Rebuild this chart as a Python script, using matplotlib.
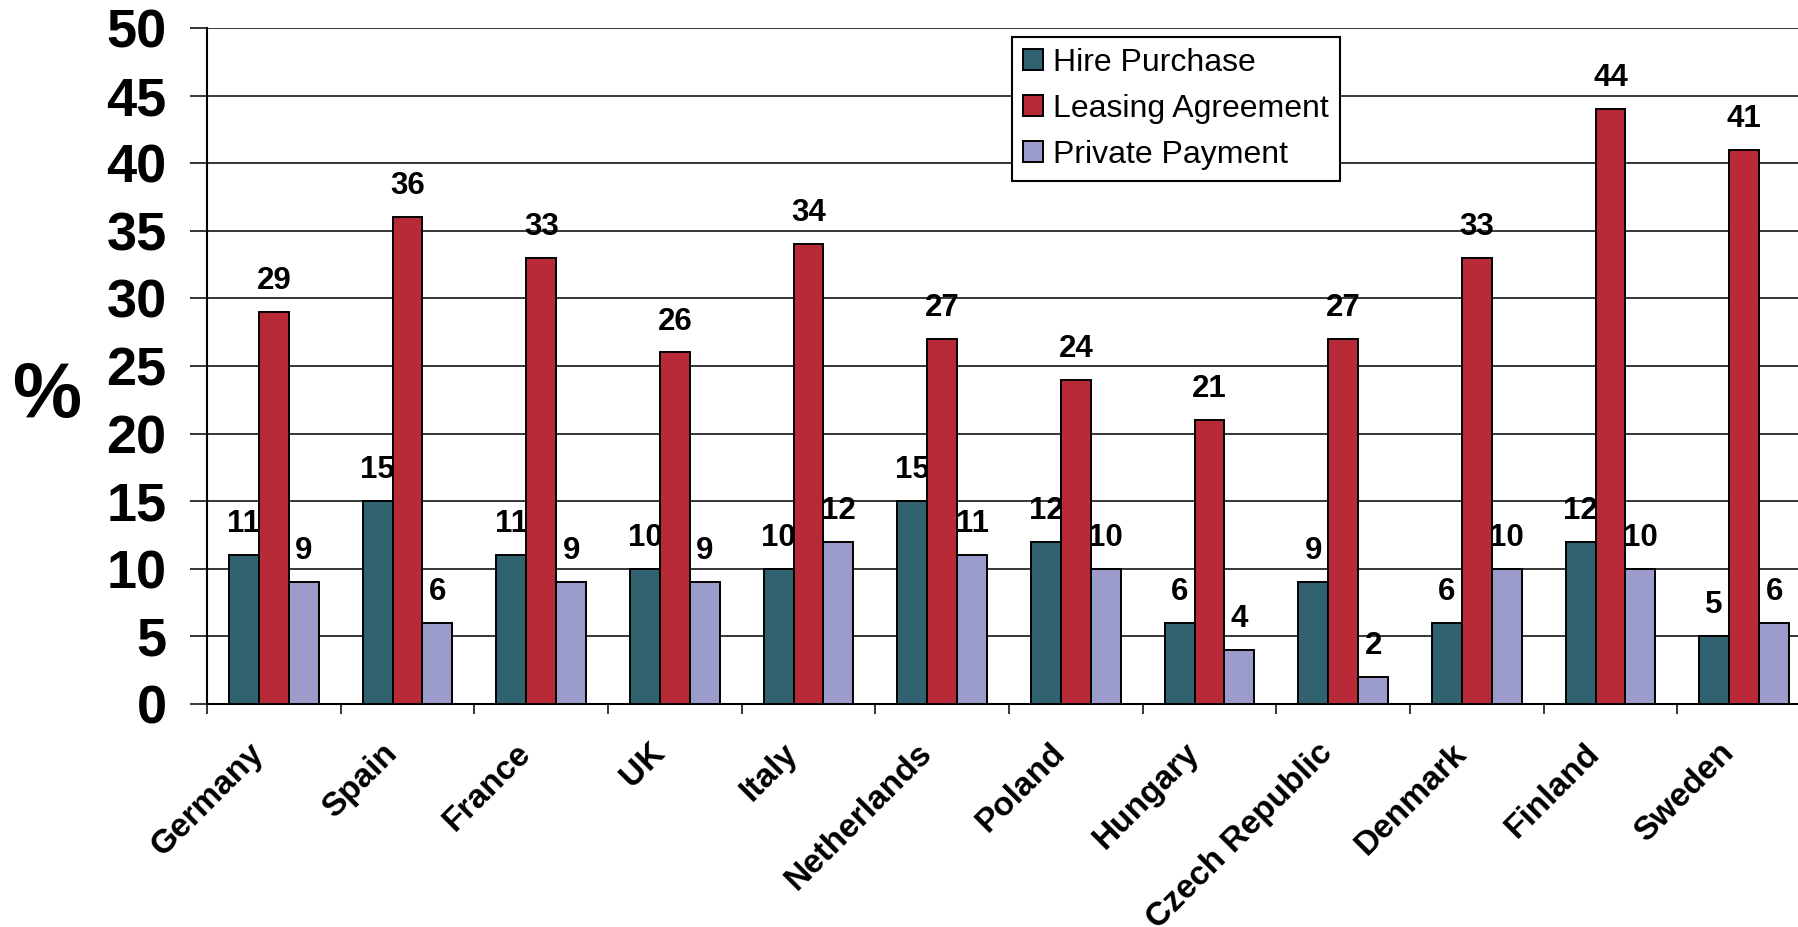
import numpy as np
import matplotlib.pyplot as plt
import matplotlib.transforms as mtransforms

countries = ["Germany", "Spain", "France", "UK", "Italy", "Netherlands",
             "Poland", "Hungary", "Czech Republic", "Denmark", "Finland", "Sweden"]
hire_purchase = [11, 15, 11, 10, 10, 15, 12, 6, 9, 6, 12, 5]
leasing_agreement = [29, 36, 33, 26, 34, 27, 24, 21, 27, 33, 44, 41]
private_payment = [9, 6, 9, 9, 12, 11, 10, 4, 2, 10, 10, 6]

series_names = ["Hire Purchase", "Leasing Agreement", "Private Payment"]
colors = ["#31626F", "#B82A37", "#9B9BCC"]

plt.rcParams['font.family'] = ['Liberation Sans', 'DejaVu Sans']

W, H = 1798, 927
fig = plt.figure(figsize=(W / 100, H / 100), dpi=100)
# plot area runs a little past the right edge, as in the original
ax = fig.add_axes([207 / W, 1 - 704 / H, (1811 - 207) / W, (704 - 28) / H])

x = np.arange(len(countries))
w = 0.224
for i, (vals, name, col) in enumerate(zip([hire_purchase, leasing_agreement, private_payment],
                                          series_names, colors)):
    bars = ax.bar(x + (i - 1) * w, vals, w, color=col, edgecolor='black',
                  linewidth=1.4, label=name, zorder=3)
    for b, v in zip(bars, vals):
        ax.annotate(str(v), (b.get_x() + b.get_width() / 2, v), xytext=(0, 16.5),
                    textcoords='offset points', ha='center', va='baseline',
                    fontsize=22.5, fontweight='bold', zorder=2)

ax.set_xlim(-0.5, 11.5)
ax.set_ylim(0, 50)
ax.set_yticks(range(0, 51, 5))
ax.yaxis.grid(True, color='black', linewidth=1.1)
ax.set_axisbelow(True)
ax.tick_params(axis='y', direction='out', length=12, width=1.1, pad=17, labelsize=39)
for lab in ax.get_yticklabels():
    lab.set_fontweight('bold')

ax.set_xticks(x)
ax.set_xticklabels(countries, rotation=45, ha='right', va='top', rotation_mode='anchor',
                   fontsize=24, fontweight='bold')
ax.set_xticks(np.arange(-0.5, 12, 1), minor=True)
ax.tick_params(axis='x', which='major', length=0, pad=24)
ax.tick_params(axis='x', which='minor', length=7, width=1.1, direction='out')
offset = mtransforms.ScaledTranslation(-0.26, 0, fig.dpi_scale_trans)
for lab in ax.get_xticklabels():
    lab.set_transform(lab.get_transform() + offset)

ax.spines['top'].set_visible(False)
ax.spines['right'].set_visible(False)
ax.spines['left'].set_linewidth(1.5)
ax.spines['bottom'].set_linewidth(1.5)

fig.text(47 / W, 1 - 397 / H, "%", fontsize=56, fontweight='bold', ha='center', va='center')

leg = ax.legend(loc='upper left', bbox_to_anchor=(1012 / W, 1 - 37 / H),
                bbox_transform=fig.transFigure, borderaxespad=0, fontsize=23,
                fancybox=False, edgecolor='black', framealpha=1,
                handlelength=0.63, handleheight=0.63, handletextpad=0.3,
                borderpad=0.35, labelspacing=0.5)
leg.get_frame().set_linewidth(1.5)

fig.savefig('out.png', dpi=100)
